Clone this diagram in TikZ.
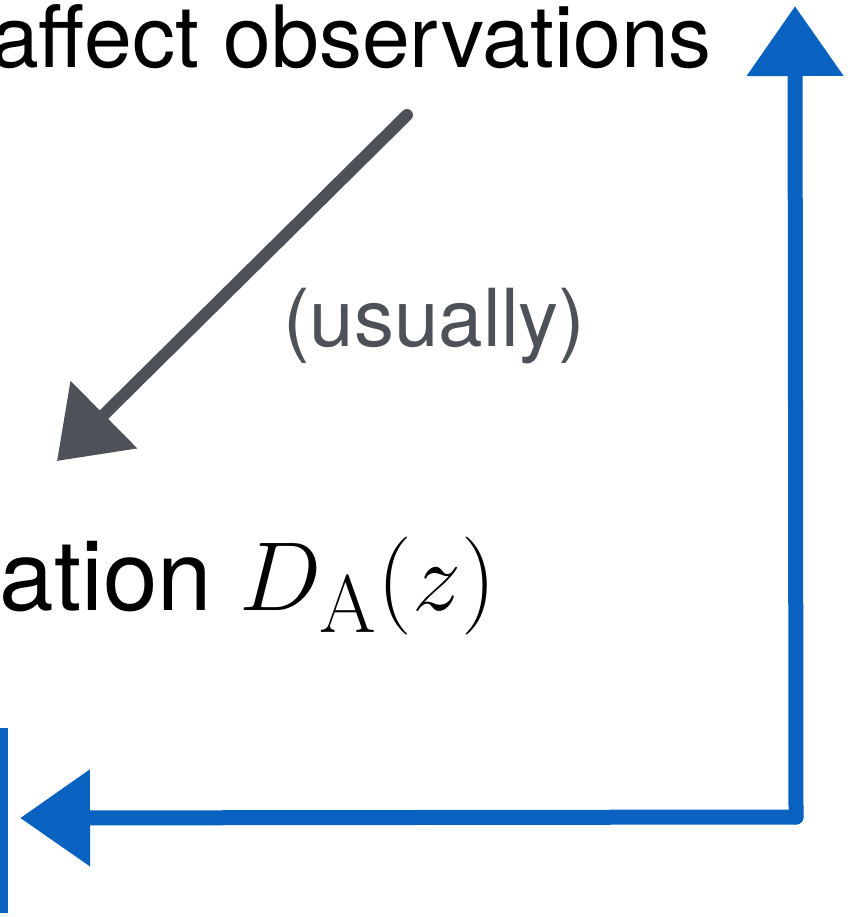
\documentclass[tikz,border=0pt]{standalone}
\usepackage{amsmath}
\usepackage[no-math]{fontspec}
\setmainfont{TeX Gyre Heros}
\usepackage{tikz}
\usetikzlibrary{arrows.meta, positioning, calc}
\definecolor{sketchblue}{RGB}{10,98,192}
\definecolor{sketchgray}{RGB}{78,82,88}
\tikzset{
  bluearrow/.style={draw=sketchblue, line width=15pt, line cap=round,
    -{Triangle[length=70pt,width=93pt]}},
  grayarrow/.style={draw=sketchgray, line width=12pt, line cap=round,
    -{Triangle[length=66pt,width=92pt]}},
}

\begin{document}
\begin{tikzpicture}[x=1pt, y=-1pt]
  \useasboundingbox (0,0) rectangle (858,917);
  % texts
  \node[anchor=base east, inner sep=0pt] (obs) at (712,68)
    {\fontsize{86}{90}\selectfont affect observations};
  \node[anchor=base west, inner sep=0pt, text=sketchgray] (usually) at (283,346)
    {\fontsize{80}{84}\selectfont (usually)};
  \node[anchor=base east, inner sep=0pt, scale=3.94] (rel) at (497,610)
    {\Huge ation $D_{\mathrm{A}}(z)$};
  % gray arrow
  \coordinate (gstart) at (407,115);
  \coordinate (gtip) at (57,461);
  \draw[grayarrow] (gstart) -- (gtip);
  % blue loop
  \coordinate (corner) at (796,817);
  \coordinate (uptip) at (795,6);
  \coordinate (lefttip) at (20,818);
  \draw[bluearrow] (corner) -- (uptip);
  \draw[bluearrow] (corner) -- (lefttip);
  \fill[sketchblue] (0,728) rectangle (8,913);
\end{tikzpicture}
\end{document}
